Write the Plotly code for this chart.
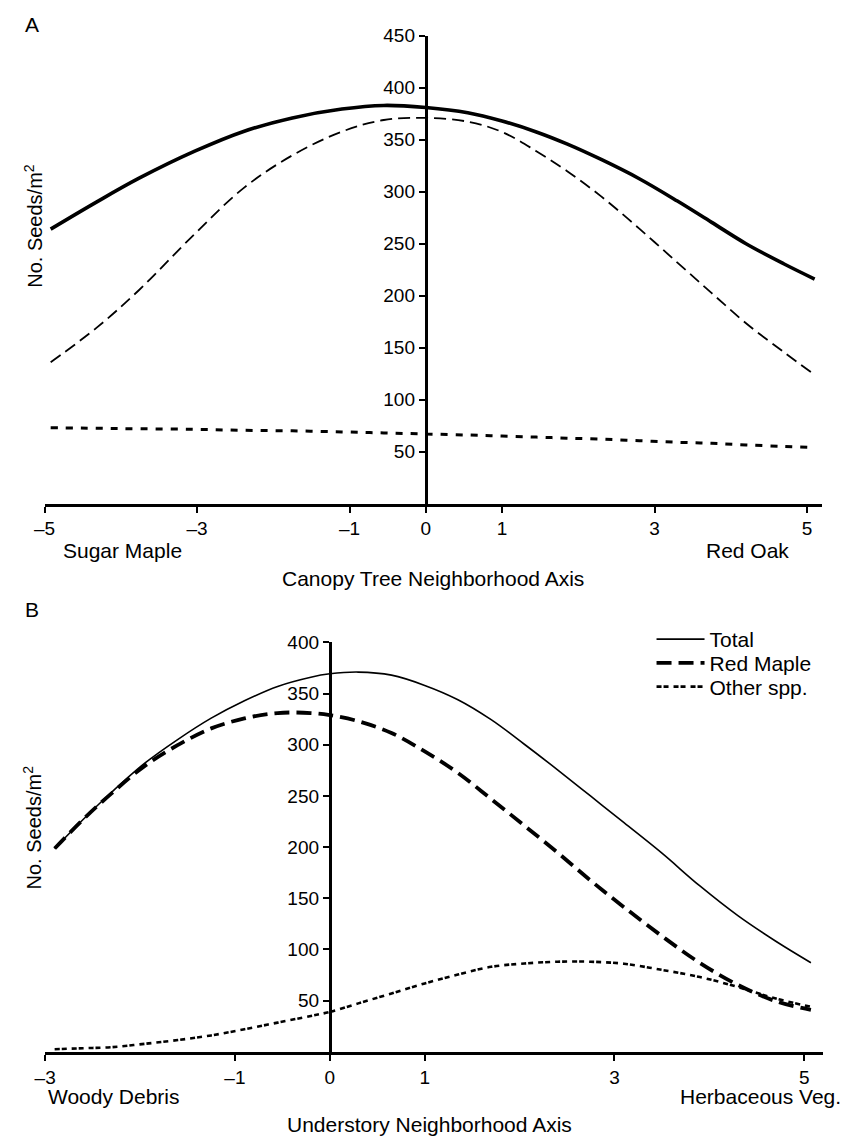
import plotly.graph_objects as go

W, H = 843, 1141
FONT = "Liberation Sans, Arial, Helvetica, sans-serif"

# ---------------- Panel A: canopy tree neighborhood axis ----------------
xa = [-4.92, -4.32, -3.76, -3.03, -2.39, -1.75, -1.10, -0.55, 0, 0.55,
      1.0, 1.45, 1.85, 2.3, 2.8, 3.3, 3.75, 4.2, 4.7, 5.1]
a_total = [264, 290, 313, 339, 358, 371, 379.5, 383, 381, 376,
           368, 357.5, 346, 331, 312.5, 291, 270.5, 250, 230.5, 216]
a_redmaple = [136, 169, 205.5, 259.5, 303.5, 335, 357.8, 369, 371, 367.4,
              357.5, 339, 320, 295.5, 264.5, 231.8, 202.5, 173.5, 145.5, 124]
a_other = [73, 72.5, 72, 71.5, 70.5, 70, 69, 68, 67, 66,
           65, 64, 63, 62, 60.5, 59, 58, 56.5, 55, 54]

a_xticks = [-5, -3, -1, 0, 1, 3, 5]
a_xticktext = ["\u20135", "\u20133", "\u20131", "0", "1", "3", "5"]
a_yticks = [50, 100, 150, 200, 250, 300, 350, 400, 450]

# ---------------- Panel B: understory neighborhood axis ----------------
xb = [-2.9, -2.6, -2.3, -1.95, -1.6, -1.25, -0.9, -0.55, -0.2, 0,
      0.3, 0.65, 1.0, 1.35, 1.7, 2.05, 2.4, 2.75, 3.1, 3.5, 3.9, 4.3, 4.7, 5.07]
b_total = [198.6, 227, 253.6, 282, 305.3, 326, 343, 357, 366, 369.3,
           371, 368, 358, 344, 324.5, 300.5, 275.5, 249.7, 223.8, 194, 162, 133, 108, 87]
b_redmaple = [198.6, 227, 252.5, 279.4, 299.8, 316, 325.7, 331, 331, 329,
              323, 311.5, 293.5, 272.5, 247, 221, 194.7, 167.2, 141.3, 113, 86.8, 65.4, 49.4, 41]
b_other = [2.5, 3.5, 4.5, 7.8, 11.5, 16, 22, 28.5, 35, 39,
           47.3, 57, 66.8, 75.5, 83, 86.3, 88, 88, 86, 80, 73, 63.3, 52, 44]

b_xticks = [-3, -1, 0, 1, 3, 5]
b_xticktext = ["\u20133", "\u20131", "0", "1", "3", "5"]
b_yticks = [50, 100, 150, 200, 250, 300, 350, 400]

series_names = ["Total", "Red Maple", "Other spp."]

# ---------------- geometry ----------------
xa_dom = [34 / W, 822 / W]
xa_rng = [-5, 5.2]
ya_dom = [1 - 498 / H, 1 - 26 / H]
ya_rng = [0, 450]

xb_dom = [34.6 / W, 823 / W]
xb_rng = [-3, 5.2]
yb_dom = [1 - 1051 / H, 1 - 638 / H]
yb_rng = [0, 400]


def zero_pos(dom, rng):
    return dom[0] + (dom[1] - dom[0]) * (0 - rng[0]) / (rng[1] - rng[0])


fig = go.Figure()

# Panel A traces
fig.add_trace(go.Scatter(x=xa, y=a_total, mode="lines", line=dict(color="black", width=3.6, shape="spline"),
                         showlegend=False, xaxis="x", yaxis="y", name=series_names[0]))
fig.add_trace(go.Scatter(x=xa, y=a_redmaple, mode="lines",
                         line=dict(color="black", width=1.8, dash="12px,6px", shape="spline"),
                         showlegend=False, xaxis="x", yaxis="y", name=series_names[1]))
fig.add_trace(go.Scatter(x=xa, y=a_other, mode="lines",
                         line=dict(color="black", width=3, dash="7px,8px", shape="spline"),
                         showlegend=False, xaxis="x", yaxis="y", name=series_names[2]))

# Panel B traces
fig.add_trace(go.Scatter(x=xb, y=b_total, mode="lines", line=dict(color="black", width=1.6, shape="spline"),
                         name=series_names[0], xaxis="x2", yaxis="y2", legend="legend"))
fig.add_trace(go.Scatter(x=xb, y=b_redmaple, mode="lines",
                         line=dict(color="black", width=3.8, dash="15px,7px", shape="spline"),
                         name=series_names[1], xaxis="x2", yaxis="y2", legend="legend2"))
fig.add_trace(go.Scatter(x=xb, y=b_other, mode="lines",
                         line=dict(color="black", width=2.6, dash="5px,2px,5px,5px", shape="spline"),
                         name=series_names[2], xaxis="x2", yaxis="y2", legend="legend3"))

xaxis_common = dict(showline=True, linecolor="black", linewidth=3, ticks="outside", ticklen=6,
                    tickwidth=2, tickcolor="black", showgrid=False, zeroline=False,
                    tickfont=dict(family=FONT, size=19, color="black"), fixedrange=True)
yaxis_common = dict(showline=True, linecolor="black", linewidth=3, ticks="outside", ticklen=6,
                    tickwidth=2, tickcolor="black", showgrid=False, zeroline=False,
                    tickfont=dict(family=FONT, size=19, color="black"), fixedrange=True)


def legend_box(py):
    return dict(x=649 / W, y=1 - py / H, xanchor="left", yanchor="middle", bgcolor="rgba(0,0,0,0)",
                borderwidth=0, font=dict(family=FONT, size=21, color="black"), itemwidth=48)


fig.update_layout(
    width=W, height=H,
    margin=dict(l=0, r=0, t=0, b=0),
    paper_bgcolor="white", plot_bgcolor="rgba(0,0,0,0)",
    font=dict(family=FONT, size=21, color="black"),
    xaxis=dict(domain=xa_dom, range=xa_rng, anchor="y", tickvals=a_xticks, ticktext=a_xticktext, **xaxis_common),
    yaxis=dict(domain=ya_dom, range=ya_rng, anchor="free", position=zero_pos(xa_dom, xa_rng),
               tickvals=a_yticks, **yaxis_common),
    xaxis2=dict(domain=xb_dom, range=xb_rng, anchor="y2", tickvals=b_xticks, ticktext=b_xticktext, **xaxis_common),
    yaxis2=dict(domain=yb_dom, range=yb_rng, anchor="free", position=zero_pos(xb_dom, xb_rng),
                tickvals=b_yticks, **yaxis_common),
    legend=legend_box(635),
    legend2=legend_box(659),
    legend3=legend_box(683),
)

ann = []


def add_text(text, px, py, xanchor="left", size=21, angle=0):
    ann.append(dict(text=text, x=px / W, y=1 - py / H, xref="paper", yref="paper", showarrow=False,
                    xanchor=xanchor, yanchor="middle", textangle=angle,
                    font=dict(family=FONT, size=size, color="black")))


add_text("A", 12, 15)
add_text("B", 12, 605)
add_text("Sugar Maple", 51, 545)
add_text("Red Oak", 790, 545, xanchor="right")
add_text("Canopy Tree Neighborhood Axis", 428, 574, xanchor="center")
add_text("Woody Debris", 35, 1096)
add_text("Herbaceous Veg.", 843, 1096, xanchor="right")
add_text("Understory Neighborhood Axis", 424, 1124, xanchor="center")
add_text("No. Seeds/m<sup>2</sup>", 22, 218, xanchor="center", size=20, angle=-90)
add_text("No. Seeds/m<sup>2</sup>", 22, 825, xanchor="center", size=20, angle=-90)

fig.update_layout(annotations=ann)

fig.write_html("out.html", config={"displayModeBar": False},
               post_script="document.body.style.margin='0';document.body.style.overflow='hidden';")
